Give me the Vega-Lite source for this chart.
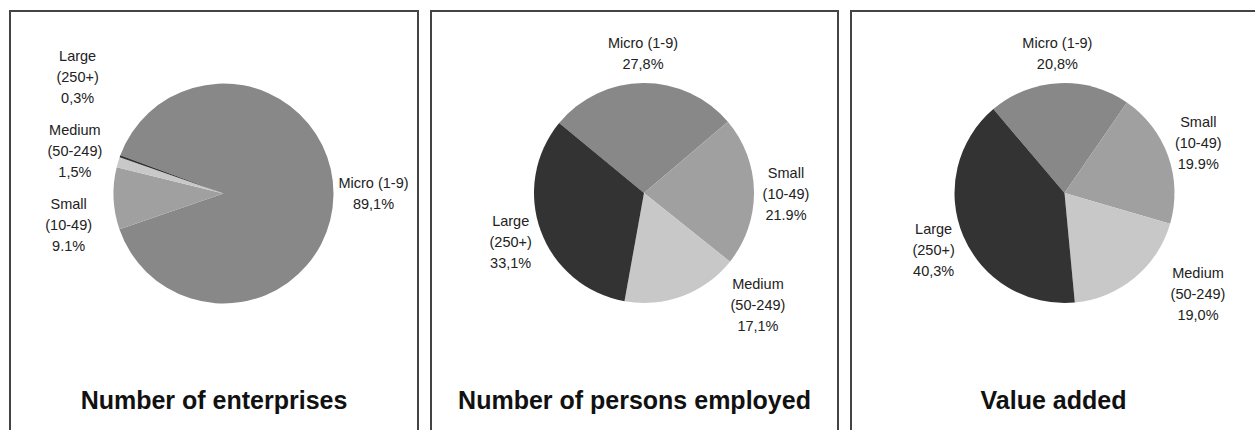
{
  "$schema": "https://vega.github.io/schema/vega-lite/v6.json",
  "padding": {"left": 9, "top": 10, "right": 0, "bottom": 0},
  "background": "white",
  "spacing": 11,
  "config": {
    "view": {"stroke": "#444444", "strokeWidth": 2},
    "font": "Liberation Sans",
    "title": {"font": "Liberation Sans", "fontSize": 25, "fontWeight": "bold", "color": "#111111", "orient": "bottom", "offset": -52, "baseline": "alphabetic", "anchor": "middle"}
  },
  "datasets": {
    "enterprises": [
      {"size": "Micro", "k": 1, "share": 89.1, "label": "Micro (1-9)\n89,1%"},
      {"size": "Small", "k": 2, "share": 9.1, "label": "Small\n(10-49)\n9.1%"},
      {"size": "Medium", "k": 3, "share": 1.5, "label": "Medium\n(50-249)\n1,5%"},
      {"size": "Large", "k": 4, "share": 0.3, "label": "Large\n(250+)\n0,3%"}
    ],
    "employed": [
      {"size": "Micro", "k": 1, "share": 27.8, "label": "Micro (1-9)\n27,8%"},
      {"size": "Small", "k": 2, "share": 21.9, "label": "Small\n(10-49)\n21.9%"},
      {"size": "Medium", "k": 3, "share": 17.1, "label": "Medium\n(50-249)\n17,1%"},
      {"size": "Large", "k": 4, "share": 33.1, "label": "Large\n(250+)\n33,1%"}
    ],
    "valueadded": [
      {"size": "Micro", "k": 1, "share": 20.8, "label": "Micro (1-9)\n20,8%"},
      {"size": "Small", "k": 2, "share": 19.9, "label": "Small\n(10-49)\n19.9%"},
      {"size": "Medium", "k": 3, "share": 19.0, "label": "Medium\n(50-249)\n19,0%"},
      {"size": "Large", "k": 4, "share": 40.3, "label": "Large\n(250+)\n40,3%"}
    ]
  },
  "hconcat": [
    {
      "width": 408, "height": 430,
      "view": {"stroke": "#444444", "strokeWidth": 2},
      "data": {"name": "enterprises"},
      "title": {"text": "Number of enterprises"},
      "encoding": {
        "theta": {"field": "share", "type": "quantitative", "stack": true, "scale": {"range": [-1.2165, 5.0667]}},
        "order": {"field": "k", "type": "quantitative"}
      },
      "layer": [
        {
          "mark": {"type": "arc", "radius": 110, "x": 213.5, "y": 182.5},
          "encoding": {
            "color": {"field": "size", "type": "nominal", "scale": {"domain": ["Micro", "Small", "Medium", "Large"], "range": ["#888888", "#a0a0a0", "#c8c8c8", "#333333"]}, "legend": null}
          }
        },
        {
          "mark": {"type": "text", "radius": 155, "x": 213.5, "y": 182.5, "lineBreak": "\n", "fontSize": 14.5, "lineHeight": 21, "fill": "#222222", "align": "center", "baseline": "middle",
            "dx": {"expr": "datum.size === 'Micro' ? -5 : 0"},
            "dy": {"expr": "datum.size === 'Large' ? -84 : (datum.size === 'Small' ? 5 : (datum.size === 'Medium' ? -18 : -11))"}},
          "encoding": {"text": {"field": "label", "type": "nominal"}}
        }
      ]
    },
    {
      "width": 407, "height": 430,
      "view": {"stroke": "#444444", "strokeWidth": 2},
      "data": {"name": "employed"},
      "title": {"text": "Number of persons employed"},
      "encoding": {
        "theta": {"field": "share", "type": "quantitative", "stack": true, "scale": {"range": [-0.8814, 5.4018]}},
        "order": {"field": "k", "type": "quantitative"}
      },
      "layer": [
        {
          "mark": {"type": "arc", "radius": 110, "x": 213, "y": 182},
          "encoding": {
            "color": {"field": "size", "type": "nominal", "scale": {"domain": ["Micro", "Small", "Medium", "Large"], "range": ["#888888", "#a0a0a0", "#c8c8c8", "#333333"]}, "legend": null}
          }
        },
        {
          "mark": {"type": "text", "radius": 142, "x": 213, "y": 182, "lineBreak": "\n", "fontSize": 14.5, "lineHeight": 21, "fill": "#222222", "align": "center", "baseline": "middle",
            "dx": {"expr": "datum.size === 'Medium' ? 64 : 0"},
            "dy": {"expr": "datum.size === 'Medium' ? -41 : (datum.size === 'Micro' ? -7 : (datum.size === 'Small' ? -17 : -20))"}},
          "encoding": {"text": {"field": "label", "type": "nominal"}}
        }
      ]
    },
    {
      "width": 405, "height": 430,
      "view": {"stroke": "#444444", "strokeWidth": 2},
      "data": {"name": "valueadded"},
      "title": {"text": "Value added"},
      "encoding": {
        "theta": {"field": "share", "type": "quantitative", "stack": true, "scale": {"range": [-0.7034, 5.5798]}},
        "order": {"field": "k", "type": "quantitative"}
      },
      "layer": [
        {
          "mark": {"type": "arc", "radius": 110, "x": 213.5, "y": 182},
          "encoding": {
            "color": {"field": "size", "type": "nominal", "scale": {"domain": ["Micro", "Small", "Medium", "Large"], "range": ["#888888", "#a0a0a0", "#c8c8c8", "#333333"]}, "legend": null}
          }
        },
        {
          "mark": {"type": "text", "radius": 142, "x": 213.5, "y": 182, "lineBreak": "\n", "fontSize": 14.5, "lineHeight": 21, "fill": "#222222", "align": "center", "baseline": "middle",
            "dx": {"expr": "datum.size === 'Medium' ? 43 : 0"},
            "dy": {"expr": "datum.size === 'Medium' ? -28 : (datum.size === 'Micro' ? -7 : (datum.size === 'Small' ? -22 : -18))"}},
          "encoding": {"text": {"field": "label", "type": "nominal"}}
        }
      ]
    }
  ]
}
